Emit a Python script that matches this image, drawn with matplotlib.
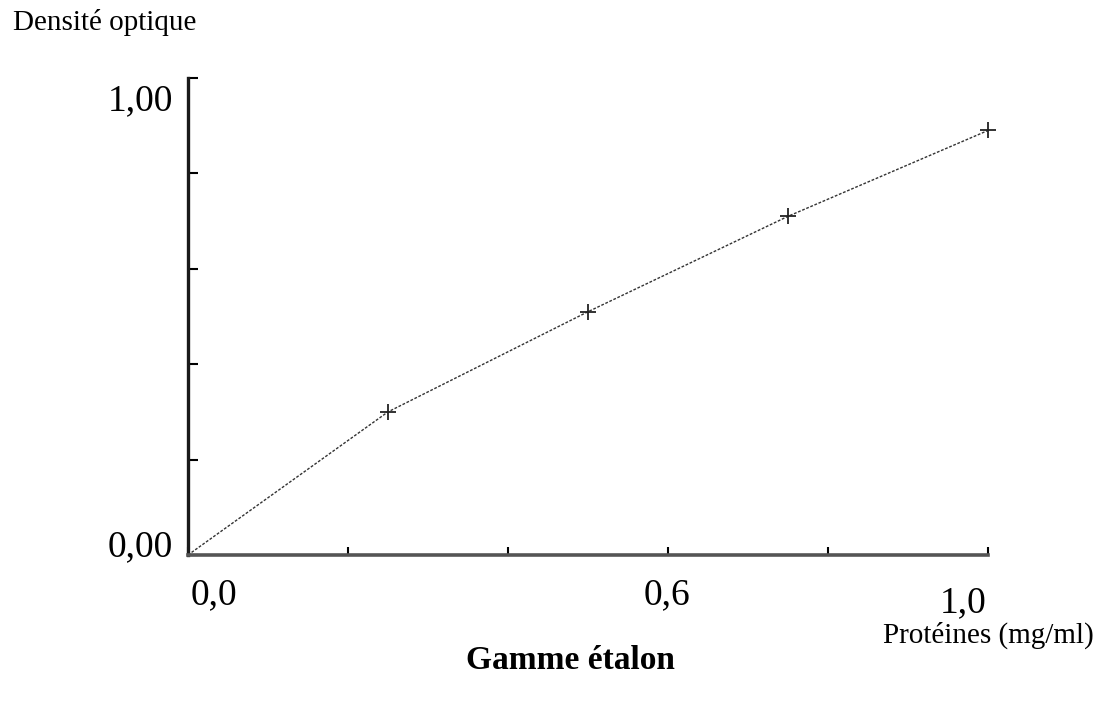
import matplotlib
matplotlib.use("Agg")
import matplotlib.pyplot as plt
import matplotlib.transforms as mtransforms

# gamme étalon : protéines (mg/ml) vs densité optique
proteines = [0.0, 0.25, 0.50, 0.75, 1.0]
densite = [0.0, 0.30, 0.51, 0.71, 0.89]

xticks = [0.0, 0.2, 0.4, 0.6, 0.8, 1.0]
xlabels = ["0,0", "", "", "0,6", "", "1,0"]
yticks = [0.0, 0.2, 0.4, 0.6, 0.8, 1.0]
ylabels = ["0,00", "", "", "", "", "1,00"]

plt.rcParams["font.family"] = ["Liberation Serif", "DejaVu Serif"]

fig = plt.figure(figsize=(11.01, 7.10), dpi=100)
ax = fig.add_axes([0.1707, 0.2183, 0.7266, 0.6718])

ax.plot(
    proteines,
    densite,
    color="#333333",
    linestyle=(0, (2, 1.2)),
    linewidth=1.0,
    marker="+",
    markevery=[1, 2, 3, 4],
    markersize=11,
    markeredgewidth=1.3,
    markeredgecolor="#222222",
    clip_on=False
)

ax.set_xlim(0, 1.0)
ax.set_ylim(0, 1.0)

for side in ["top", "right"]:
    ax.spines[side].set_visible(False)
ax.spines["left"].set_linewidth(2.4)
ax.spines["bottom"].set_linewidth(2.6)
ax.spines["left"].set_color("#1a1a1a")
ax.spines["bottom"].set_color("#555555")

ax.set_xticks(xticks)
ax.set_xticklabels(xlabels, fontsize=27)
ax.set_yticks(yticks)
ax.set_yticklabels(ylabels, fontsize=27)
ax.tick_params(axis="x", direction="in", length=6, width=1.5, pad=16)
ax.tick_params(axis="y", direction="in", length=7, width=1.5, pad=11)

# petits décalages des étiquettes comme sur l'original
xoff = [(26, 0), (0, 0), (0, 0), (-1, 0), (0, 0), (-25, -8)]
for lab, (dx, dy) in zip(ax.get_xticklabels(), xoff):
    lab.set_transform(lab.get_transform() + mtransforms.ScaledTranslation(dx / 100, dy / 100, fig.dpi_scale_trans))
yoff = [12, 0, 0, 0, 0, -19]
for lab, dy in zip(ax.get_yticklabels(), yoff):
    lab.set_transform(lab.get_transform() + mtransforms.ScaledTranslation(0, dy / 100, fig.dpi_scale_trans))

fig.text(0.012, 0.969, "Densité optique", fontsize=21, ha="left", va="center")
fig.text(0.993, 0.1056, "Protéines (mg/ml)", fontsize=21, ha="right", va="center")
fig.text(0.518, 0.0704, "Gamme étalon", fontsize=24, fontweight="bold", ha="center", va="center")

fig.savefig("out.png", dpi=100)
